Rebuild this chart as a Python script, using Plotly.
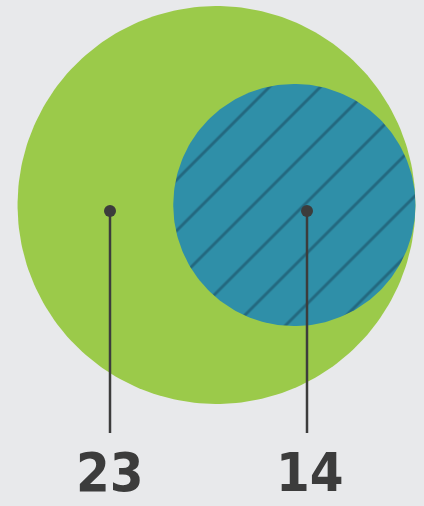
import numpy as np
import plotly.graph_objects as go

# Values shown as nested circles (radius proportional to value)
labels = ["23", "14"]
values = [23, 14]

W, H = 424, 506
BG = "#e8e9eb"
GREEN = "#9bca4a"
BLUE = "#2f8fa8"
HATCH = "#23687f"
INK = "#3c3c3c"

px_per_unit = 8.65
big_r = values[0] * px_per_unit
small_r = values[1] * px_per_unit
big_cx, big_cy = 216.5, 205
# small circle sits inside the big one, touching its right edge
small_cx = big_cx + (big_r - small_r)
small_cy = big_cy

# pointer anchors and label positions
pointer_x = [110, 307]
pointer_top = 211
pointer_bottom = 433
label_x = [110, 310]
label_y = 472


def circle(cx, cy, r, n=240):
    t = np.linspace(0, 2 * np.pi, n)
    return cx + r * np.cos(t), cy + r * np.sin(t)


fig = go.Figure()

bx, by = circle(big_cx, big_cy, big_r)
fig.add_trace(go.Scatter(x=bx, y=by, mode="lines", fill="toself",
                         fillcolor=GREEN, line=dict(width=0, color=GREEN),
                         hoverinfo="skip"))

sx, sy = circle(small_cx, small_cy, small_r)
fig.add_trace(go.Scatter(x=sx, y=sy, mode="lines", fill="toself",
                         fillcolor=BLUE, line=dict(width=0, color=BLUE),
                         fillpattern=dict(shape="/", size=36, solidity=0.08,
                                          fgcolor=HATCH, bgcolor=BLUE,
                                          fillmode="replace"),
                         hoverinfo="skip"))

for x, lx, lab in zip(pointer_x, label_x, labels):
    fig.add_trace(go.Scatter(x=[x, x], y=[pointer_top, pointer_bottom],
                             mode="lines", line=dict(color=INK, width=2.5),
                             hoverinfo="skip"))
    fig.add_trace(go.Scatter(x=[x], y=[pointer_top], mode="markers",
                             marker=dict(color=INK, size=12),
                             hoverinfo="skip"))
    fig.add_annotation(x=lx, y=label_y, text=f"<b>{lab}</b>", showarrow=False,
                       font=dict(family="DejaVu Sans Condensed, Liberation Sans Narrow, Roboto, sans-serif",
                                 size=54, color=INK),
                       xanchor="center", yanchor="middle")

fig.update_layout(
    width=W, height=H,
    margin=dict(l=0, r=0, t=0, b=0),
    paper_bgcolor=BG, plot_bgcolor=BG,
    showlegend=False,
    xaxis=dict(range=[0, W], visible=False, fixedrange=True),
    yaxis=dict(range=[H, 0], visible=False, fixedrange=True,
               scaleanchor="x", scaleratio=1),
)

fig.write_html("out.html", config={"displayModeBar": False})
